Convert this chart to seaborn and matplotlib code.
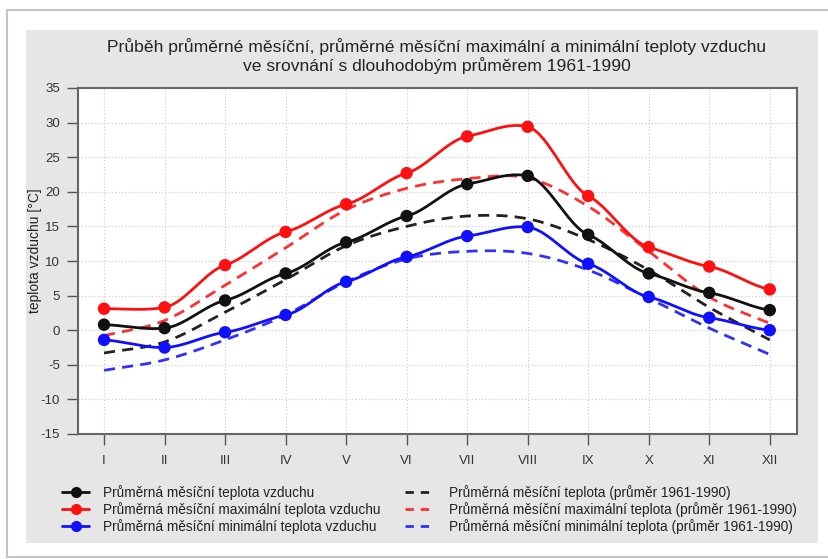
import numpy as np
import pandas as pd
import matplotlib
matplotlib.use("Agg")
import matplotlib.pyplot as plt
from matplotlib.lines import Line2D
from matplotlib.patches import Rectangle
import seaborn as sns

months = ["I", "II", "III", "IV", "V", "VI", "VII", "VIII", "IX", "X", "XI", "XII"]
avg = [0.8, 0.3, 4.3, 8.2, 12.7, 16.5, 21.1, 22.3, 13.8, 8.2, 5.4, 2.9]
avg_max = [3.1, 3.3, 9.4, 14.2, 18.2, 22.7, 28.0, 29.4, 19.4, 12.0, 9.2, 5.9]
avg_min = [-1.4, -2.5, -0.3, 2.2, 7.0, 10.6, 13.6, 14.9, 9.6, 4.8, 1.8, 0.0]
norm_avg = [-3.3, -1.7, 2.6, 7.3, 12.2, 15.0, 16.5, 16.1, 13.1, 8.7, 3.3, -1.4]
norm_max = [-0.8, 1.4, 6.5, 11.9, 17.4, 20.5, 21.9, 22.0, 17.9, 11.4, 4.8, 1.0]
norm_min = [-5.8, -4.3, -1.4, 2.2, 7.0, 10.3, 11.4, 11.1, 8.7, 4.6, 0.3, -3.5]

labels_solid = ["Průměrná měsíční teplota vzduchu",
                "Průměrná měsíční maximální teplota vzduchu",
                "Průměrná měsíční minimální teplota vzduchu"]
labels_dash = ["Průměrná měsíční teplota (průměr 1961-1990)",
               "Průměrná měsíční maximální teplota (průměr 1961-1990)",
               "Průměrná měsíční minimální teplota (průměr 1961-1990)"]
title = ("Průběh průměrné měsíční, průměrné měsíční maximální a minimální teploty vzduchu\n"
         "ve srovnání s dlouhodobým průměrem 1961-1990")
ylabel = "teplota vzduchu [°C]"

sns.set_style("white")
plt.rcParams["font.family"] = ["Liberation Sans", "DejaVu Sans"]
plt.rcParams["axes.unicode_minus"] = False

W, H = 829, 559
fig = plt.figure(figsize=(W / 100, H / 100), dpi=100)
fig.patch.set_facecolor("white")

# outer card and gray panel
fig.add_artist(Rectangle((7 / W, 1 - 557 / H), (840 - 7) / W, (557 - 10) / H,
                         transform=fig.transFigure, facecolor="white",
                         edgecolor="#c4c4c4", linewidth=1.5, zorder=0))
fig.add_artist(Rectangle((26 / W, 1 - 543 / H), (818 - 26) / W, (543 - 30) / H,
                         transform=fig.transFigure, facecolor="#e6e6e6",
                         edgecolor="none", zorder=0))

ax = fig.add_axes([78 / W, 1 - 434 / H, (797 - 78) / W, (434 - 88) / H])
ax.set_facecolor("white")


def smooth(vals, tension=1.0, n=24):
    v = np.asarray(vals, float)
    p = np.concatenate([[2 * v[0] - v[1]], v, [2 * v[-1] - v[-2]]])
    xs, ys = [], []
    for i in range(len(v) - 1):
        p0, p1, p2, p3 = p[i], p[i + 1], p[i + 2], p[i + 3]
        m1 = tension * (p2 - p0) / 2
        m2 = tension * (p3 - p1) / 2
        t = np.linspace(0, 1, n, endpoint=False)
        h00 = 2 * t ** 3 - 3 * t ** 2 + 1
        h10 = t ** 3 - 2 * t ** 2 + t
        h01 = -2 * t ** 3 + 3 * t ** 2
        h11 = t ** 3 - t ** 2
        y = h00 * p1 + h10 * m1 + h01 * p2 + h11 * m2
        xs.append(i + t)
        ys.append(y)
    xs.append([len(v) - 1])
    ys.append([v[-1]])
    return np.concatenate(xs), np.concatenate(ys)


x_idx = np.arange(len(months))
colors = ["#111111", "#ff1010", "#1010ff"]
dcolors = ["#222222", "#ff3030", "#3030ff"]

for vals, c in zip([norm_avg, norm_max, norm_min], dcolors):
    xs, ys = smooth(vals, tension=1.0)
    sns.lineplot(x=xs, y=ys, ax=ax, color=c, linewidth=2.0, linestyle=(0, (4, 2.6)),
                 sort=False, zorder=3)

for vals, c in zip([avg, avg_max, avg_min], colors):
    xs, ys = smooth(vals, tension=0.5)
    sns.lineplot(x=xs, y=ys, ax=ax, color=c, linewidth=2.0, sort=False, zorder=4)
    sns.scatterplot(x=x_idx, y=vals, ax=ax, color=c, s=80, edgecolor="none",
                    zorder=5, legend=False)

ax.set_xlim(-0.43, 11.45)
ax.set_ylim(-15, 35)
ax.set_xticks(x_idx)
ax.set_xticklabels(months)
ax.set_yticks(np.arange(-15, 36, 5))
ax.tick_params(axis="both", direction="out", length=8, width=1, color="#555555",
               labelsize=9.5, labelcolor="#333333", pad=5, bottom=True, left=True)
ax.tick_params(axis="x", pad=7)
ax.grid(True, linestyle=(0, (1, 2)), color="#c8c8c8", linewidth=0.8)
for s in ax.spines.values():
    s.set_color("#666666")
    s.set_linewidth(1.5)
    s.set_visible(True)
ax.set_xlabel("")
ax.set_ylabel(ylabel, fontsize=10, color="#222222")
ax.yaxis.set_label_coords(-0.05, 0.53)

fig.text(437 / W, 1 - 56 / H, title, ha="center", va="center", fontsize=12.6,
         color="#222222", linespacing=1.1)

handles = []
for c in colors:
    handles.append(Line2D([], [], color=c, linewidth=2, marker="o", markersize=7))
dh = []
for c in dcolors:
    dh.append(Line2D([], [], color=c, linewidth=2, linestyle=(0, (3, 2.5))))

leg1 = fig.legend(handles, labels_solid, loc="upper left",
                  bbox_to_anchor=(62 / W, 1 - 485 / H), frameon=False, fontsize=9.8,
                  handlelength=2.0, handletextpad=1.0, labelspacing=0.15,
                  borderaxespad=0, borderpad=0)
leg2 = fig.legend(dh, labels_dash, loc="upper left",
                  bbox_to_anchor=(405 / W, 1 - 485 / H), frameon=False, fontsize=9.8,
                  handlelength=2.2, handletextpad=1.0, labelspacing=0.15,
                  borderaxespad=0, borderpad=0)
for leg in (leg1, leg2):
    for t in leg.get_texts():
        t.set_color("#222222")

fig.savefig("out.png", dpi=100, facecolor="white")
